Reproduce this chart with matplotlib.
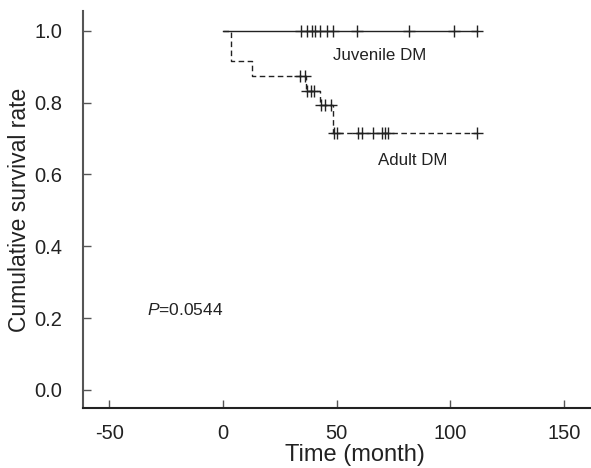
import numpy as np
import matplotlib.pyplot as plt

plt.rcParams['font.family'] = ['Liberation Sans', 'DejaVu Sans']
plt.rcParams['mathtext.fontset'] = 'custom'
plt.rcParams['mathtext.it'] = 'Liberation Sans:italic'
plt.rcParams['mathtext.rm'] = 'Liberation Sans'

# Kaplan-Meier step data (time in months, survival)
juv_time = [0, 111.5]
juv_surv = [1.0, 1.0]
juv_censor = [34.3, 36.9, 39.1, 40.6, 42.8, 45.7, 48.6, 58.9, 81.6, 101.4, 111.5]

adult_time = [0, 3.5, 12.7, 36.5, 42.6, 48.2, 111.5]
adult_surv = [1.0, 0.917, 0.875, 0.833, 0.792, 0.714, 0.714]
adult_censor_t = [33.8, 36.0, 36.9, 38.7, 40.0, 43.1, 45.1, 47.3,
                  48.8, 50.3, 59.3, 61.3, 66.1, 69.8, 71.2, 72.7, 111.5]
adult_censor_s = [0.875, 0.875, 0.833, 0.833, 0.833, 0.792, 0.792, 0.792,
                  0.714, 0.714, 0.714, 0.714, 0.714, 0.714, 0.714, 0.714, 0.714]

xticks = [-50, 0, 50, 100, 150]
yticks = [0.0, 0.2, 0.4, 0.6, 0.8, 1.0]

fig = plt.figure(figsize=(5.91, 4.68), dpi=100)
ax = fig.add_axes([0.1404, 0.1276, 0.8596, 0.849])

line_col = '#222222'
ax.plot(juv_time, juv_surv, drawstyle='steps-post', color=line_col, lw=1.0)
ax.plot(juv_censor, [1.0] * len(juv_censor), ls='none', marker='+',
        ms=9, mew=1.0, color=line_col)

ax.plot(adult_time, adult_surv, drawstyle='steps-post', color=line_col,
        lw=1.0, ls=(0, (4, 2.5)))
ax.plot(adult_censor_t, adult_censor_s, ls='none', marker='+',
        ms=9, mew=1.0, color=line_col)

ax.text(48.4, 0.93, 'Juvenile DM', fontsize=12.2, va='center', ha='left', color='#222222')
ax.text(68.1, 0.64, 'Adult DM', fontsize=12.2, va='center', ha='left', color='#222222')
ax.text(-33.4, 0.223, '$P$=0.0544', fontsize=12.5, va='center', ha='left', color='#222222')

ax.set_xlim(-61.5, 161.8)
ax.set_ylim(-0.051, 1.055)
ax.set_xticks(xticks)
ax.set_xticklabels([str(t) for t in xticks])
ax.set_yticks(yticks)
ax.set_yticklabels([f'{t:.1f}' for t in yticks])

for s in ['top', 'right']:
    ax.spines[s].set_visible(False)
ax.spines['left'].set_color('#555555')
ax.spines['bottom'].set_color('#222222')
ax.spines['left'].set_linewidth(1.5)
ax.spines['bottom'].set_linewidth(1.5)
ax.tick_params(direction='in', length=6, width=1.0, colors='#555555',
               labelcolor='#222222', labelsize=14.5)
ax.tick_params(axis='x', pad=11)
ax.tick_params(axis='y', pad=15)

ax.set_xlabel('Time (month)', fontsize=17, color='#222222')
ax.set_ylabel('Cumulative survival rate', fontsize=16.5, color='#222222')
ax.xaxis.set_label_coords(0.535, -0.09)
ax.yaxis.set_label_coords(-0.102, 0.5)

plt.savefig('out.png', dpi=100)
